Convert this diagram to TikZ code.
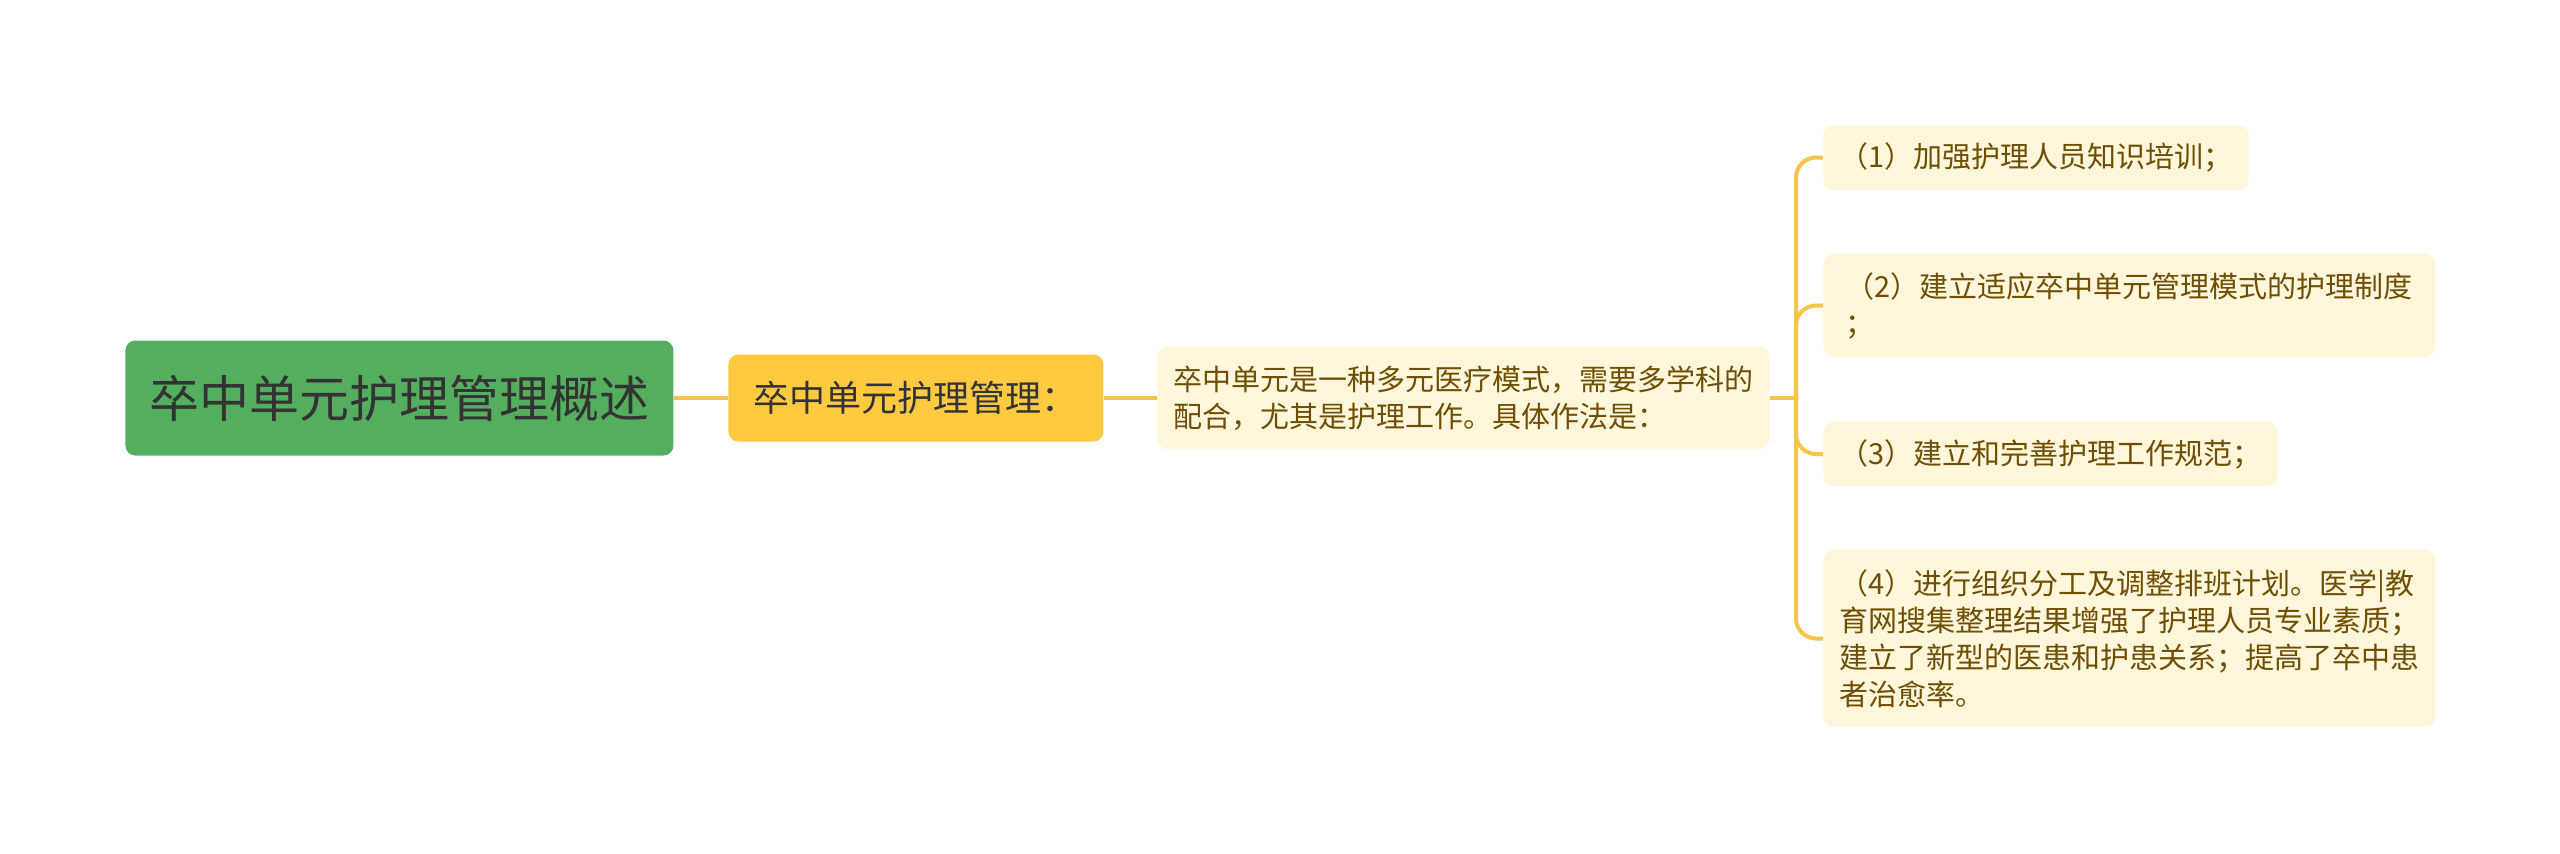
\documentclass[tikz,border=0pt]{standalone}
\usepackage{fontspec}
\setmainfont{Noto Sans CJK SC}
\usepackage{tikz}
\usetikzlibrary{positioning}

\definecolor{rootgreen}{RGB}{83,174,94}
\definecolor{mgmtyellow}{RGB}{255,202,64}
\definecolor{leafcream}{RGB}{255,246,220}
\definecolor{linkyellow}{RGB}{246,197,72}
\definecolor{leaftext}{RGB}{110,78,0}
\definecolor{darktext}{RGB}{51,51,51}

\begin{document}
\begin{tikzpicture}[x=1pt,y=-1pt,
		box/.style={rounded corners=5pt, inner xsep=8pt, inner ysep=3pt, align=left, anchor=west},
		rootbox/.style={box, fill=rootgreen, text=darktext, minimum height=57.5pt, font=\fontsize{25}{30}\selectfont},
		mgmtbox/.style={box, fill=mgmtyellow, text=darktext, minimum height=43.5pt, font=\fontsize{18}{21}\selectfont},
		leafbox/.style={box, fill=leafcream, text=leaftext, font=\fontsize{14.5}{18.5}\selectfont},
		link/.style={draw=linkyellow, line width=2pt}]
		\useasboundingbox[fill=white] (0,0) rectangle (1280,426.5);

		\node[rootbox, minimum width=274pt] (root) at (62.5,199) {卒中单元护理管理概述};
		\node[mgmtbox, minimum width=187.5pt] (mgmt) at (364,199) {卒中单元护理管理：};
		\node[leafbox, minimum width=306pt, minimum height=51pt] (intro) at (578.5,199)
			{卒中单元是一种多元医疗模式，需要多学科的\\配合，尤其是护理工作。具体作法是：};

		\node[leafbox, minimum width=212pt, minimum height=32.5pt] (c1) at (911.5,78.75)
			{（1）加强护理人员知识培训；};
		\node[leafbox, minimum width=306pt, minimum height=51.5pt] (c2) at (911.5,152.75)
			{（2）建立适应卒中单元管理模式的护理制度\\；};
		\node[leafbox, minimum width=227pt, minimum height=32pt] (c3) at (911.5,227)
			{（3）建立和完善护理工作规范；};
		\node[leafbox, minimum width=306pt, minimum height=88.5pt] (c4) at (911.5,319.25)
			{（4）进行组织分工及调整排班计划。医学|教\\育网搜集整理结果增强了护理人员专业素质；\\建立了新型的医患和护患关系；提高了卒中患\\者治愈率。};

		\coordinate (fork) at (898,199);

		\draw[link] (root.east) -- (mgmt.west);
		\draw[link] (mgmt.east) -- (intro.west);
		\draw[link] (intro.east) -- (fork);
		\foreach \c in {c1,c2,c3,c4}
			\draw[link, rounded corners=10pt] (fork) |- (\c.west);
	\end{tikzpicture}
\end{document}
